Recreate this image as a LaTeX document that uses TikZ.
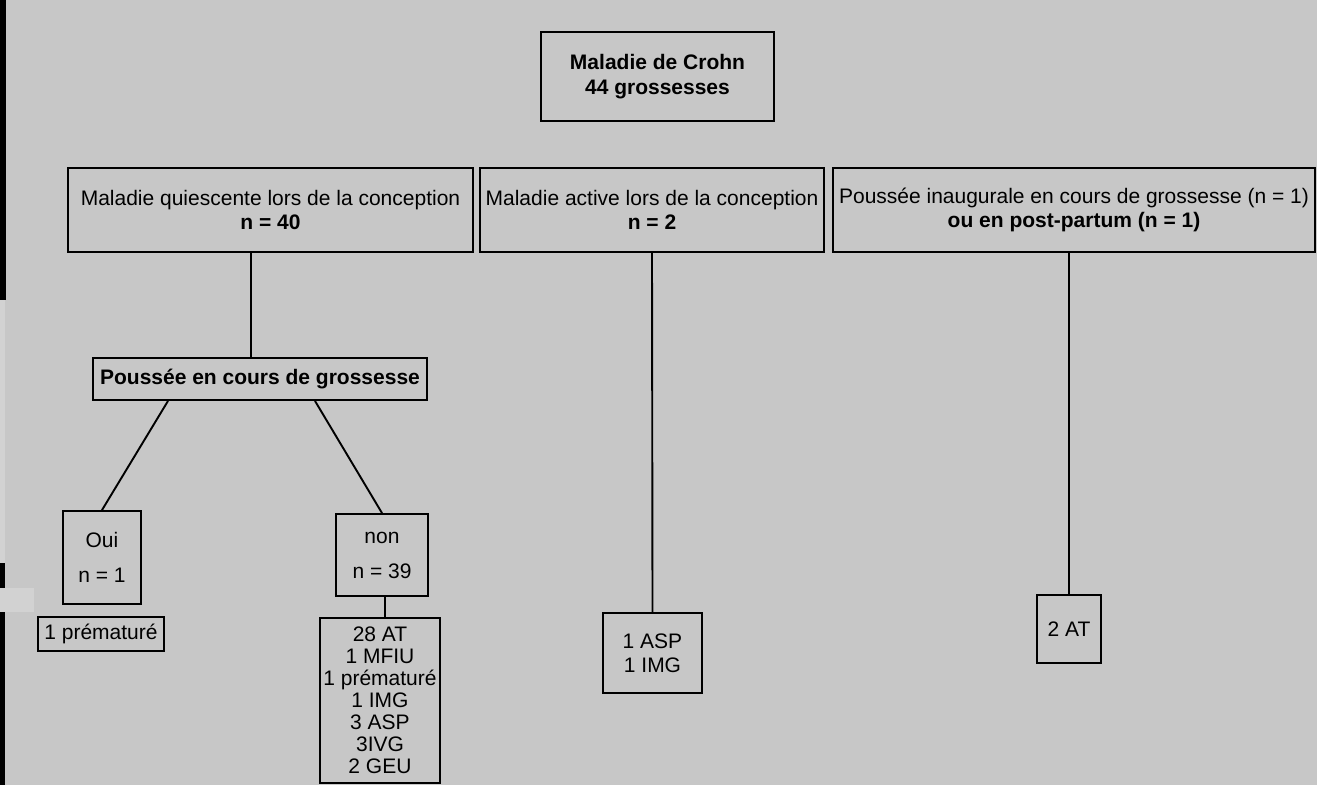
\documentclass[tikz,border=0pt]{standalone}
\usepackage{fontspec}
\setmainfont{Liberation Sans}
\usetikzlibrary{positioning}

\definecolor{fond}{RGB}{199,199,199}
\definecolor{clair}{RGB}{210,210,210}

\tikzset{
    boite/.style = {draw, line width=1.9pt, inner sep=0pt, align=center,
                    font=\fontsize{21}{24}\selectfont},
    trait/.style = {line width=1.9pt}
}

\begin{document}
\begin{tikzpicture}[x=1pt, y=-1pt]
    \fill [fond] (0,0) rectangle (1317,785);

    % bord gauche de la capture
    \fill [black] (0,0) rectangle (6,300);
    \fill [clair] (0,300) rectangle (5,563);
    \fill [black] (0,563) rectangle (5,588);
    \fill [clair] (0,588) rectangle (34,612);
    \fill [black] (0,612) rectangle (5,785);

    \node [boite, minimum width=233, minimum height=89, font=\fontsize{21}{25}\selectfont\bfseries]
        (crohn) at (657.5,76.5) {Maladie de Crohn\\44 grossesses};

    \node [boite, minimum width=405, minimum height=84] (quies) at (270.5,210)
        {Maladie quiescente lors de la conception\\\textbf{n = 40}};
    \node [boite, minimum width=344, minimum height=84] (actif) at (652,210)
        {Maladie active lors de la conception\\\textbf{n = 2}};
    \node [boite, minimum width=482, minimum height=84] (inaug) at (1074,210)
        {Poussée inaugurale en cours de grossesse (n = 1)\\\textbf{ou en post-partum (n = 1)}};

    \node [boite, minimum width=334, minimum height=42, font=\fontsize{21}{24}\selectfont\bfseries]
        (pous) at (260,379) {Poussée en cours de grossesse};

    \node [boite, minimum width=78, minimum height=93] (oui) at (102,557.5) {Oui\\[11pt]n = 1};
    \node [boite, minimum width=92, minimum height=82] (non) at (382,555) {non\\[11pt]n = 39};

    \node [boite, minimum width=126, minimum height=34] (premat) at (101,634) {1 prématuré};
    \node [boite, minimum width=120, minimum height=165, font=\fontsize{21}{22}\selectfont]
        (issues) at (380,700.5) {28 AT\\1 MFIU\\1 prématuré\\1 IMG\\3 ASP\\3IVG\\2 GEU};
    \node [boite, minimum width=99, minimum height=80] (asp) at (652.5,653) {1 ASP\\1 IMG};
    \node [boite, minimum width=64, minimum height=68] (at) at (1069,629) {2 AT};

    \draw [trait] ([xshift=-19.5]quies.south) -- ([xshift=-9]pous.north);
    \draw [trait] (actif.south) -- (asp.north);
    \draw [trait] (inaug.south -| at.north) -- (at.north);

    \draw [trait] ([xshift=-92]pous.south) -- (oui.north);
    \draw [trait] ([xshift=55]pous.south) -- (non.north);
    \draw [trait] ([xshift=3]non.south) -- ([xshift=3]non.south |- issues.north);
\end{tikzpicture}
\end{document}
